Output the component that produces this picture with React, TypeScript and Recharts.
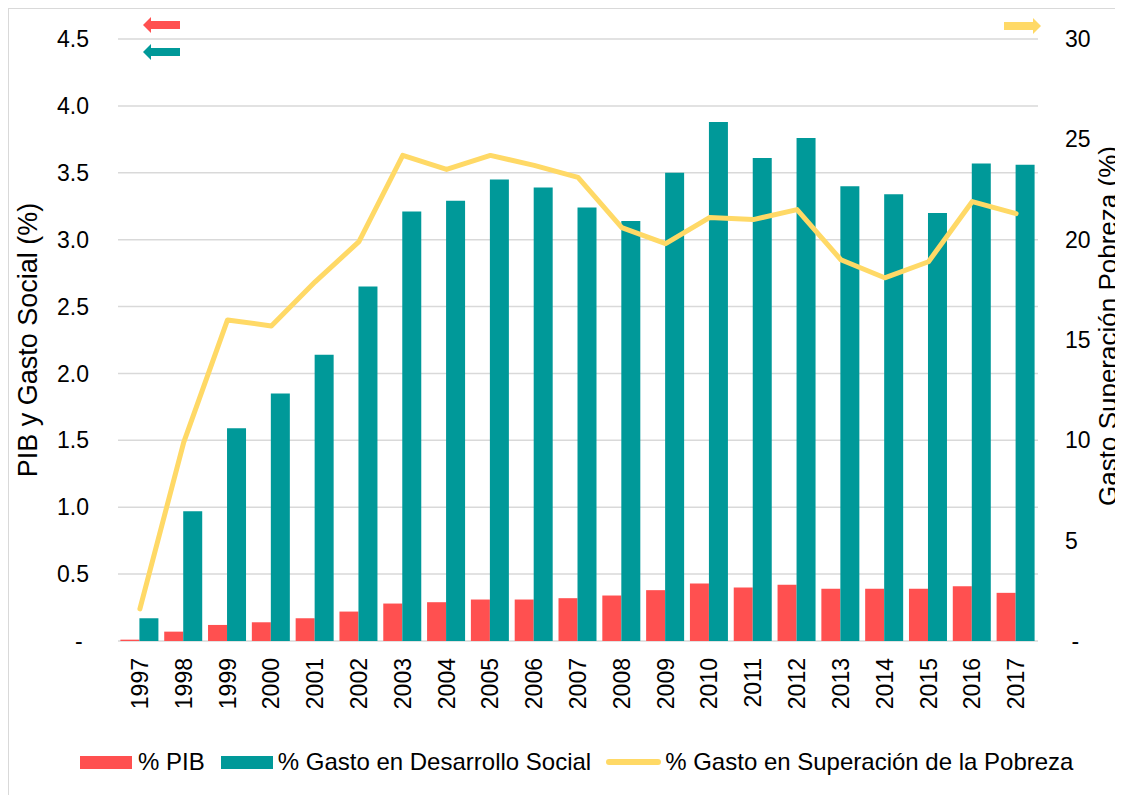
import { ComposedChart, Bar, Line, XAxis, YAxis, CartesianGrid } from "recharts";

const years = [
  "1997", "1998", "1999", "2000", "2001", "2002", "2003", "2004", "2005", "2006", "2007",
  "2008", "2009", "2010", "2011", "2012", "2013", "2014", "2015", "2016", "2017",
];
const pib = [
  0.01, 0.07, 0.12, 0.14, 0.17, 0.22, 0.28, 0.29, 0.31, 0.31, 0.32,
  0.34, 0.38, 0.43, 0.4, 0.42, 0.39, 0.39, 0.39, 0.41, 0.36,
];
const gastoSocial = [
  0.17, 0.97, 1.59, 1.85, 2.14, 2.65, 3.21, 3.29, 3.45, 3.39, 3.24,
  3.14, 3.5, 3.88, 3.61, 3.76, 3.4, 3.34, 3.2, 3.57, 3.56,
];
const gastoPobreza = [
  1.6, 9.9, 16.0, 15.7, 17.9, 19.9, 24.2, 23.5, 24.2, 23.7, 23.1,
  20.6, 19.8, 21.1, 21.0, 21.5, 19.0, 18.1, 18.9, 21.9, 21.3,
];
const leftTicks = [0, 0.5, 1, 1.5, 2, 2.5, 3, 3.5, 4, 4.5];
const rightTicks = [0, 5, 10, 15, 20, 25, 30];

const data = years.map((year, i) => ({
  year,
  pib: pib[i],
  social: gastoSocial[i],
  pobreza: gastoPobreza[i],
}));

const RED = "#FF5050";
const TEAL = "#009999";
const GOLD = "#FFD966";
const FONT = "'Liberation Sans', Arial, sans-serif";

const YearTick = ({ x, y, payload }: any) => (
  <text
    x={x}
    y={y}
    dy="0.35em"
    textAnchor="end"
    transform={`rotate(-90, ${x}, ${y})`}
    fontSize={23}
    fontFamily={FONT}
    fill="#000"
  >
    {payload.value}
  </text>
);

const LeftTitle = ({ viewBox }: any) => {
  const x = viewBox.x + 28;
  const y = 331;
  return (
    <text x={x} y={y} textAnchor="middle" transform={`rotate(-90, ${x}, ${y})`} fontSize={27} fontFamily={FONT} fill="#000">
      PIB y Gasto Social (%)
    </text>
  );
};

const RightTitle = ({ viewBox }: any) => {
  const x = viewBox.x + 79;
  const y = 317;
  return (
    <text x={x} y={y} textAnchor="middle" transform={`rotate(-90, ${x}, ${y})`} fontSize={26} fontFamily={FONT} fill="#000">
      Gasto Superación Pobreza (%)
    </text>
  );
};

const tickStyle = { fontSize: 23, fontFamily: FONT, fill: "#000" };

export default function App() {
  return (
    <div
      style={{
        position: "relative",
        width: 1120,
        height: 790,
        border: "1px solid #d9d9d9",
        background: "#fff",
        fontFamily: FONT,
      }}
    >
      <ComposedChart
        width={1118}
        height={780}
        data={data}
        margin={{ top: 30, right: 0, left: 0, bottom: 0 }}
        barGap={0}
        barCategoryGap="5.5%"
      >
        <CartesianGrid vertical={false} yAxisId="left" stroke="#d9d9d9" strokeWidth={1.5} />
        <XAxis
          dataKey="year"
          height={148}
          axisLine={false}
          tickLine={false}
          tickSize={0}
          tickMargin={17}
          interval={0}
          tick={<YearTick />}
        />
        <YAxis
          yAxisId="left"
          width={109}
          domain={[0, 4.5]}
          ticks={leftTicks}
          axisLine={false}
          tickLine={false}
          tickSize={0}
          tickMargin={29}
          tick={tickStyle}
          tickFormatter={(v: number) => (v === 0 ? "-\u00A0" : v.toFixed(1))}
          label={<LeftTitle />}
        />
        <YAxis
          yAxisId="right"
          orientation="right"
          width={89}
          domain={[0, 30]}
          ticks={rightTicks}
          axisLine={false}
          tickLine={false}
          tickSize={0}
          tickMargin={27}
          tick={tickStyle}
          tickFormatter={(v: number) => (v === 0 ? "\u00A0-" : String(v))}
          label={<RightTitle />}
        />
        <Bar yAxisId="left" dataKey="pib" name="% PIB" fill={RED} isAnimationActive={false} />
        <Bar yAxisId="left" dataKey="social" name="% Gasto en Desarrollo Social" fill={TEAL} isAnimationActive={false} />
        <Line
          yAxisId="right"
          dataKey="pobreza"
          name="% Gasto en Superación de la Pobreza"
          type="linear"
          stroke={GOLD}
          strokeWidth={5}
          strokeLinecap="round"
          strokeLinejoin="round"
          dot={false}
          activeDot={false}
          isAnimationActive={false}
        />
      </ComposedChart>

      {/* axis indicator arrows */}
      <svg width={1110} height={60} style={{ position: "absolute", left: 0, top: 0, pointerEvents: "none" }}>
        <polygon points="134,16 142,8 142,12 171,12 171,20 142,20 142,24" fill={RED} />
        <polygon points="134,43 142,35 142,39 171,39 171,47 142,47 142,51" fill={TEAL} />
        <polygon points="1032,17 1024,9 1024,13 995,13 995,21 1024,21 1024,25" fill={GOLD} />
      </svg>

      {/* legend */}
      <div
        style={{
          position: "absolute",
          left: 71,
          top: 739,
          display: "flex",
          alignItems: "center",
          fontSize: 24,
          color: "#000",
          whiteSpace: "nowrap",
        }}
      >
        <span style={{ width: 52, height: 13, background: RED, display: "inline-block", marginRight: 6 }} />
        <span style={{ marginRight: 16 }}>% PIB</span>
        <span style={{ width: 52, height: 13, background: TEAL, display: "inline-block", marginRight: 5 }} />
        <span style={{ marginRight: 15 }}>% Gasto en Desarrollo Social</span>
        <span style={{ width: 55, height: 6, borderRadius: 3, background: GOLD, display: "inline-block", marginRight: 4 }} />
        <span>% Gasto en Superación de la Pobreza</span>
      </div>
    </div>
  );
}
